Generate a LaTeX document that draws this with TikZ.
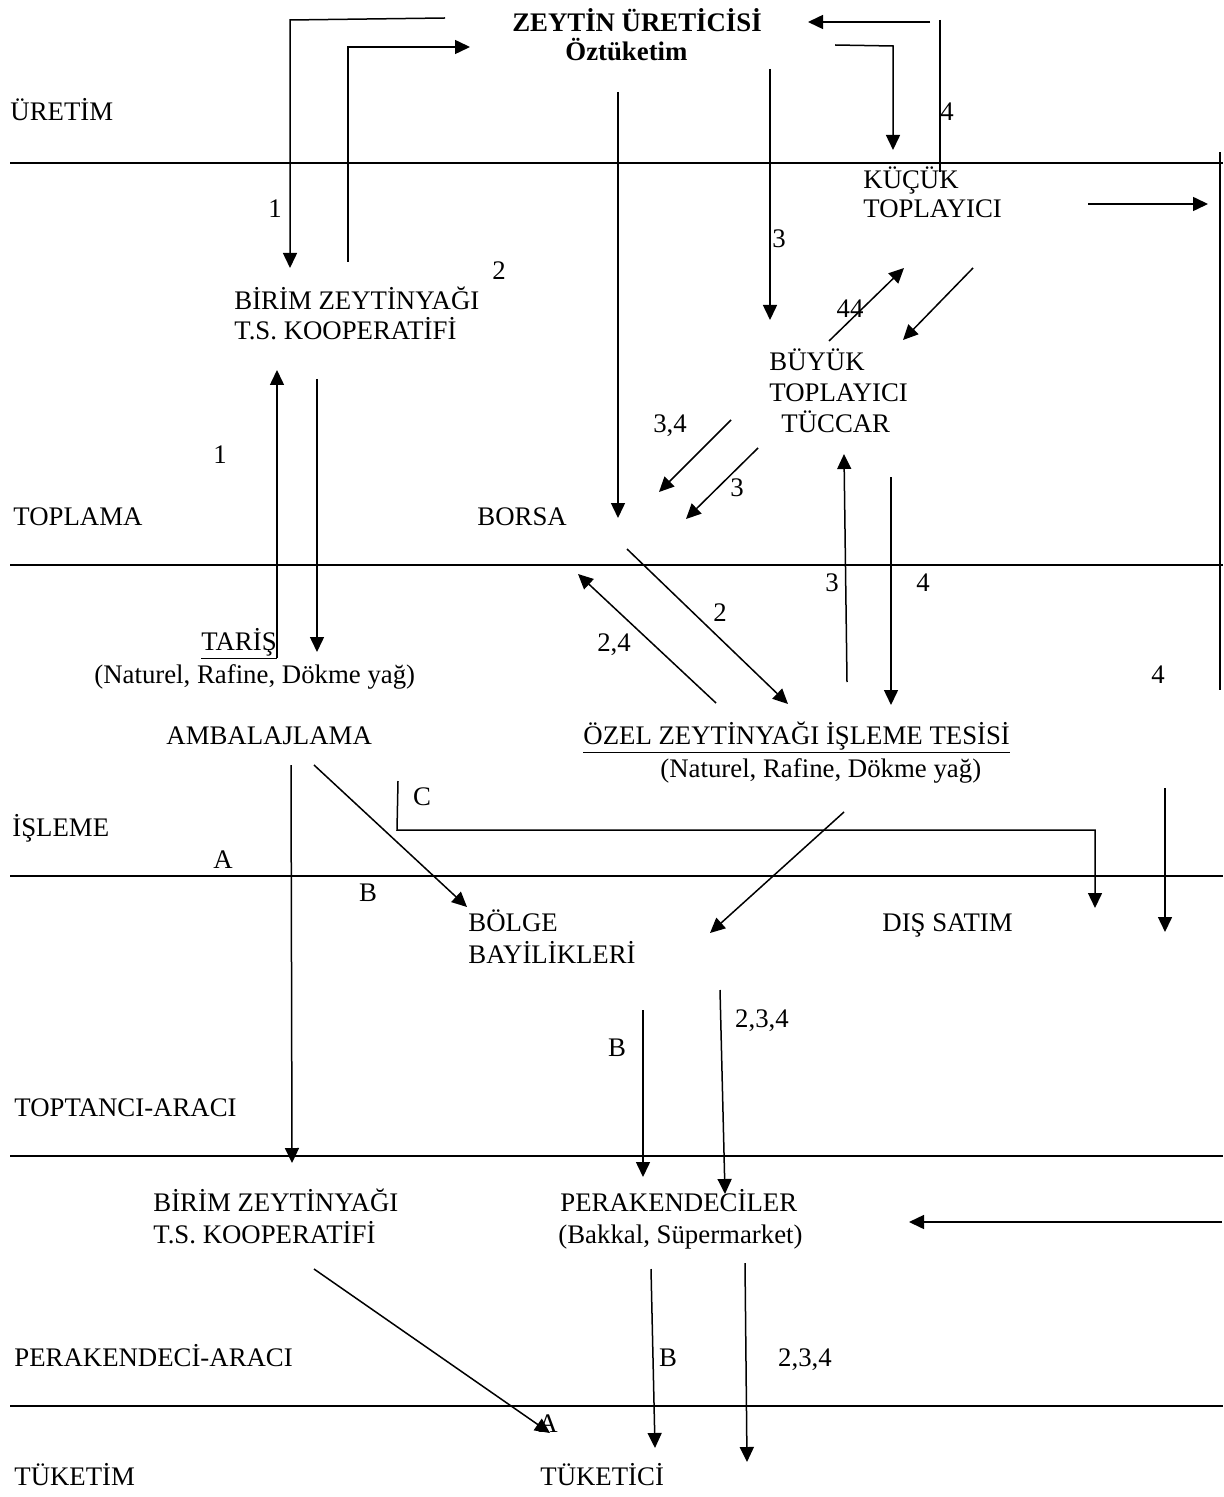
\documentclass[tikz,border=0pt]{standalone}
\usepackage{fontspec}
\setmainfont{Liberation Serif}
\usetikzlibrary{arrows.meta}
\begin{document}
\begin{tikzpicture}[x=0.5pt,y=-0.5pt,
  lbl/.style={inner sep=0pt, anchor=base west, font=\fontsize{13.4}{15.5}\selectfont},
  num/.style={inner sep=0pt, anchor=base, font=\fontsize{13.4}{15.5}\selectfont},
  sepline/.style={line width=1.1pt},
  flow/.style={line width=0.75pt, -{Triangle[length=7.5pt,width=7pt]}},
  plain/.style={line width=0.75pt}]
\useasboundingbox (0,0) rectangle (1223,1497);

% section separators
\coordinate (s1a) at (10,163);  \coordinate (s1b) at (1223,163);
\coordinate (s2a) at (10,565);  \coordinate (s2b) at (1223,565);
\coordinate (s3a) at (10,876);  \coordinate (s3b) at (1223,876);
\coordinate (s4a) at (10,1156); \coordinate (s4b) at (1223,1156);
\coordinate (s5a) at (10,1406); \coordinate (s5b) at (1223,1406);
\draw[sepline] (s1a) -- (s1b);
\draw[sepline] (s2a) -- (s2b);
\draw[sepline] (s3a) -- (s3b);
\draw[sepline] (s4a) -- (s4b);
\draw[sepline] (s5a) -- (s5b);

% section labels
\node[lbl] (uretim)   at (10,121)  {ÜRETİM};
\node[lbl] (toplama)  at (13,525)  {TOPLAMA};
\node[lbl] (isleme)   at (12,836)  {İŞLEME};
\node[lbl] (toptanci) at (14,1116) {TOPTANCI-ARACI};
\node[lbl] (perak)    at (14,1366) {PERAKENDECİ-ARACI};
\node[lbl] (tuketim)  at (14,1485) {TÜKETİM};

% main nodes
\node[num, font=\fontsize{13.4}{15.5}\selectfont\bfseries] (uretici) at (637,32) {ZEYTİN ÜRETİCİSİ};
\node[lbl, font=\fontsize{13.4}{15.5}\selectfont\bfseries] (oztuk) at (565,61) {Öztüketim};
\node[lbl] (kucuk1) at (863,189) {KÜÇÜK};
\node[lbl] (kucuk2) at (863,218) {TOPLAYICI};
\node[lbl] (birim1) at (234,310) {BİRİM ZEYTİNYAĞI};
\node[lbl] (birim2) at (234,340) {T.S. KOOPERATİFİ};
\node[lbl] (buyuk1) at (769,371) {BÜYÜK};
\node[lbl] (buyuk2) at (769,402) {TOPLAYICI};
\node[lbl] (buyuk3) at (781,432) {TÜCCAR};
\node[lbl] (borsa)  at (477,525) {BORSA};
\node[lbl] (taris1) at (201,650) {\underline{TARİŞ}};
\node[lbl] (taris2) at (94,683)  {(Naturel, Rafine, Dökme yağ)};
\node[lbl] (ambal)  at (166,744) {AMBALAJLAMA};
\node[lbl] (ozel1)  at (583,744) {\underline{ÖZEL ZEYTİNYAĞI İŞLEME TESİSİ}};
\node[lbl] (ozel2)  at (660,777) {(Naturel, Rafine, Dökme yağ)};
\node[lbl] (bolge1) at (468,931) {BÖLGE};
\node[lbl] (bolge2) at (468,963) {BAYİLİKLERİ};
\node[lbl] (dis)    at (882,931) {DIŞ SATIM};
\node[lbl] (birimb1) at (153,1211) {BİRİM ZEYTİNYAĞI};
\node[lbl] (birimb2) at (153,1243) {T.S. KOOPERATİFİ};
\node[lbl] (perak1) at (560,1211) {PERAKENDECİLER};
\node[lbl] (perak2) at (558,1243) {(Bakkal, Süpermarket)};
\node[lbl] (tuketici) at (540,1485) {TÜKETİCİ};

% small labels
\node[num] (n1a) at (275,218) {1};
\node[num] (n2a) at (499,280) {2};
\node[num] (n3a) at (779,248) {3};
\node[num] (n4a) at (947,121) {4};
\node[num] (n44) at (850,318) {44};
\node[num] (n1b) at (220,464) {1};
\node[num] (n34) at (670,433) {3,4};
\node[num] (n3b) at (737,496) {3};
\node[num] (n3c) at (832,591) {3};
\node[num] (n4b) at (923,591) {4};
\node[num] (n2b) at (720,621) {2};
\node[num] (n24) at (614,651) {2,4};
\node[num] (n4c) at (1158,683) {4};
\node[num] (nC)  at (422,805) {C};
\node[num] (nA)  at (223,868) {A};
\node[num] (nB)  at (368,901) {B};
\node[num] (nB2) at (617,1056) {B};
\node[num] (n234a) at (762,1027) {2,3,4};
\node[num] (nB3) at (668,1366) {B};
\node[num] (n234b) at (805,1366) {2,3,4};
\node[num] (nA2) at (548,1432) {A};

% connector end points
\coordinate (a1s) at (445,18);  \coordinate (a1c) at (290,20);  \coordinate (a1e) at (290,268);
\coordinate (a2s) at (348,262); \coordinate (a2c) at (348,47);  \coordinate (a2e) at (470,47);
\coordinate (a3s) at (930,22);  \coordinate (a3e) at (808,22);
\coordinate (a3t) at (940,20);  \coordinate (a3b) at (940,172);
\coordinate (a4s) at (835,45);  \coordinate (a4c) at (893,46);  \coordinate (a4e) at (893,150);
\coordinate (a5s) at (618,92);  \coordinate (a5e) at (618,518);
\coordinate (a6s) at (770,69);  \coordinate (a6e) at (770,320);
\coordinate (a7s) at (1088,204); \coordinate (a7e) at (1208,204);
\coordinate (a8s) at (1220,152); \coordinate (a8e) at (1220,690);
\coordinate (a9s) at (829,341); \coordinate (a9e) at (904,268);
\coordinate (a10s) at (973,268); \coordinate (a10e) at (903,340);
\coordinate (a11s) at (731,420); \coordinate (a11e) at (659,492);
\coordinate (a12s) at (758,448); \coordinate (a12e) at (686,519);
\coordinate (a13s) at (627,549); \coordinate (a13e) at (788,704);
\coordinate (a14s) at (716,703); \coordinate (a14e) at (578,574);
\coordinate (a15s) at (847,682); \coordinate (a15e) at (844,454);
\coordinate (a16s) at (891,477); \coordinate (a16e) at (891,705);
\coordinate (a17s) at (277,658); \coordinate (a17e) at (277,370);
\coordinate (a18s) at (317,379); \coordinate (a18e) at (317,652);
\coordinate (a19s) at (291,765); \coordinate (a19e) at (292,1163);
\coordinate (a20s) at (314,765); \coordinate (a20e) at (467,907);
\coordinate (a21s) at (398,781); \coordinate (a21c) at (397,830);
\coordinate (a21d) at (1095,830); \coordinate (a21e) at (1095,908);
\coordinate (a22s) at (1165,788); \coordinate (a22e) at (1165,932);
\coordinate (a23s) at (844,812); \coordinate (a23e) at (710,933);
\coordinate (a24s) at (643,1010); \coordinate (a24e) at (643,1177);
\coordinate (a25s) at (720,990); \coordinate (a25e) at (725,1194);
\coordinate (a26s) at (1222,1222); \coordinate (a26e) at (909,1222);
\coordinate (a27s) at (314,1269); \coordinate (a27e) at (550,1433);
\coordinate (a28s) at (651,1269); \coordinate (a28e) at (655,1448);
\coordinate (a29s) at (745,1263); \coordinate (a29e) at (747,1462);

% connectors
\draw[flow] (a1s) -- (a1c) -- (a1e);
\draw[flow] (a2s) -- (a2c) -- (a2e);
\draw[flow] (a3s) -- (a3e);
\draw[plain] (a3t) -- (a3b);
\draw[flow] (a4s) -- (a4c) -- (a4e);
\draw[flow] (a5s) -- (a5e);
\draw[flow] (a6s) -- (a6e);
\draw[flow] (a7s) -- (a7e);
\draw[plain] (a8s) -- (a8e);
\draw[flow] (a9s) -- (a9e);
\draw[flow] (a10s) -- (a10e);
\draw[flow] (a11s) -- (a11e);
\draw[flow] (a12s) -- (a12e);
\draw[flow] (a13s) -- (a13e);
\draw[flow] (a14s) -- (a14e);
\draw[flow] (a15s) -- (a15e);
\draw[flow] (a16s) -- (a16e);
\draw[flow] (a17s) -- (a17e);
\draw[flow] (a18s) -- (a18e);
\draw[flow] (a19s) -- (a19e);
\draw[flow] (a20s) -- (a20e);
\draw[flow] (a21s) -- (a21c) -- (a21d) -- (a21e);
\draw[flow] (a22s) -- (a22e);
\draw[flow] (a23s) -- (a23e);
\draw[flow] (a24s) -- (a24e);
\draw[flow] (a25s) -- (a25e);
\draw[flow] (a26s) -- (a26e);
\draw[flow] (a27s) -- (a27e);
\draw[flow] (a28s) -- (a28e);
\draw[flow] (a29s) -- (a29e);
\end{tikzpicture}
\end{document}
